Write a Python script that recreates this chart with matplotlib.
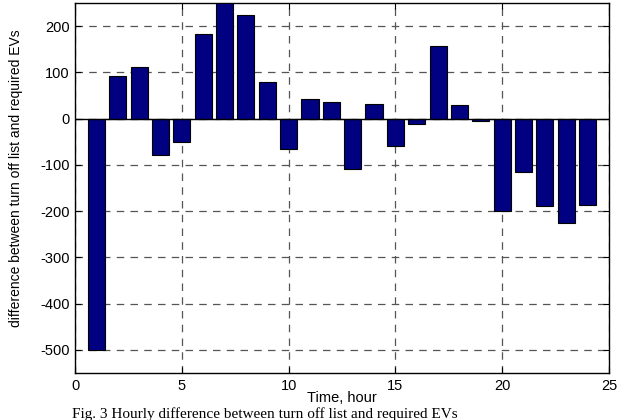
import matplotlib
matplotlib.use("Agg")
import matplotlib.pyplot as plt

hours = list(range(1, 25))
diff_values = [-500, 93, 112, -78, -50, 182, 250, 223, 80, -66, 42, 35,
               -108, 32, -60, -12, 156, 30, -5, -200, -116, -188, -225, -186]
x_ticks = [0, 5, 10, 15, 20, 25]
y_ticks = [-500, -400, -300, -200, -100, 0, 100, 200]

plt.rcParams['font.family'] = ['Liberation Sans', 'DejaVu Sans']
plt.rcParams['axes.unicode_minus'] = False

fig = plt.figure(figsize=(6.27, 4.2), dpi=100)
ax = fig.add_axes([75/627, 1-373/420, (609-75)/627, (373-3)/420])

ax.bar(hours, diff_values, width=0.8, color='#000080', edgecolor='black',
       linewidth=0.8, zorder=3)
ax.axhline(0, color='black', linewidth=1.0, zorder=4)

ax.set_xlim(0, 25)
ax.set_ylim(-550, 250)
ax.set_xticks(x_ticks)
ax.set_yticks(y_ticks)
ax.tick_params(direction='in', top=True, right=True, labelsize=10.5, length=4, pad=4)
ax.grid(True, color='#555555', linestyle=(0, (6, 5)), linewidth=0.9, zorder=1)
for s in ax.spines.values():
    s.set_linewidth(1.0)

ax.set_xlabel('Time, hour', fontsize=10.5, labelpad=-1)
ax.set_ylabel('difference between turn off list and required EVs', fontsize=10)
ax.yaxis.set_label_coords(-0.097, 0.527)

fig.text(72/627, 1-418/420, 'Fig. 3 Hourly difference between turn off list and required EVs',
         family='Liberation Serif', fontsize=11, ha='left', va='baseline')

fig.savefig('out.png', dpi=100)
